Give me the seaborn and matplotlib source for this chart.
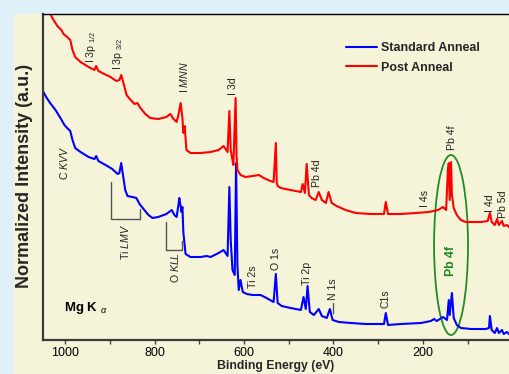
import numpy as np
import pandas as pd
import seaborn as sns
import matplotlib
matplotlib.use("Agg")
import matplotlib.pyplot as plt
from matplotlib.patches import Ellipse, Rectangle

# ---------------- data ----------------
post_be = [1040, 1029, 1018, 1009, 1004, 996, 989, 984, 978, 966, 948, 935, 931, 926, 913, 899, 886, 879, 875,
           870, 863, 854, 845, 839, 832, 821, 810, 792, 774, 765, 758, 751, 747, 742, 738, 736, 733, 729, 720,
           697, 675, 657, 646, 637, 633, 630, 626, 624, 619, 617, 615, 608, 597, 581, 567, 556, 541, 534, 529,
           527, 525, 518, 496, 473, 469, 464, 460, 455, 449, 440, 433, 426, 417, 411, 404, 393, 373, 350, 317,
           287, 283, 278, 249, 216, 187, 166, 155, 148, 144, 142, 140, 137, 135, 131, 124, 115, 104, 70, 55,
           50, 46, 39, 34, 30, 23, 19, 12, 5]
post_int = [332, 322, 314, 310, 306, 303, 300, 290, 283, 278, 273, 270, 274, 269, 266, 263, 259, 260, 265,
            257, 245, 240, 236, 237, 232, 226, 222, 221, 223, 226, 221, 218, 225, 237, 222, 207, 214, 190, 187,
            187, 188, 190, 194, 188, 229, 190, 180, 175, 242, 185, 170, 165, 163, 164, 165, 162, 159, 158, 197,
            157, 154, 152, 150, 148, 156, 147, 176, 145, 142, 140, 148, 140, 137, 148, 137, 134, 130, 127, 126,
            126, 138, 126, 126, 127, 128, 130, 133, 130, 170, 177, 140, 178, 145, 132, 125, 120, 118, 118, 119,
            127, 118, 115, 121, 115, 119, 114, 115, 112]

std_be = [1049, 1043, 1034, 1022, 1011, 1002, 996, 989, 984, 978, 966, 948, 935, 931, 926, 910, 895, 883, 879,
          875, 870, 866, 861, 850, 841, 834, 825, 814, 805, 792, 774, 762, 756, 751, 747, 745, 740, 738, 736,
          731, 720, 697, 684, 675, 657, 646, 637, 633, 630, 626, 621, 618, 615, 612, 608, 603, 594, 581, 563,
          550, 534, 529, 525, 516, 496, 473, 467, 462, 458, 453, 444, 433, 426, 415, 408, 402, 388, 361, 328,
          287, 283, 278, 249, 204, 182, 175, 169, 155, 146, 142, 140, 135, 131, 124, 115, 92, 59, 52, 50, 46,
          39, 34, 30, 23, 19, 12, 5]
std_int = [248, 243, 237, 230, 222, 215, 212, 209, 200, 192, 188, 183, 181, 184, 179, 175, 171, 166, 167,
           177, 162, 150, 144, 143, 142, 136, 131, 125, 122, 123, 126, 130, 125, 123, 135, 142, 128, 133, 108,
           86, 83, 83, 84, 83, 87, 90, 84, 153, 100, 70, 65, 177, 75, 50, 60, 48, 46, 45, 45,
           42, 38, 66, 37, 34, 32, 30, 43, 31, 54, 28, 25, 31, 24, 22, 31, 20, 18, 17, 16,
           16, 27, 15, 16, 17, 19, 21, 19, 23, 20, 40, 25, 47, 22, 15, 12, 11, 11, 12, 24, 10,
           7, 12, 7, 10, 6, 8, 5]

series_names = ["Standard Anneal", "Post Anneal"]
series_colors = ["#0000ff", "#ff0000"]

x_major = [1000, 800, 600, 400, 200]
x_minor = [900, 700, 500, 300, 100]

# annotations: (label, BE, intensity at text bottom)
peak_labels = [
    (r"I 3p $_{1/2}$", 942, 277),
    (r"I 3p $_{3/2}$", 883, 270),
    (r"I $\mathit{MNN}$", 734, 247),
    ("I 3d", 624, 245),
    ("Pb 4d", 437, 153),
    ("Pb 4f", 135, 190),
    ("I 4s", 196, 133),
    ("I 4d", 50, 128),
    ("Pb 5d", 20, 122),
    (r"C $\mathit{KVV}$", 1004, 160),
    (r"Ti $\mathit{LMV}$", 866, 80),
    (r"O $\mathit{KLL}$", 754, 57),
    ("Ti 2s", 580, 52),
    ("O 1s", 529, 70),
    ("Ti 2p", 460, 55),
    ("N 1s", 402, 40),
    ("C1s", 283, 32),
]

FONT = "Liberation Sans"
sns.set_theme(style="ticks")
plt.rcParams["font.family"] = [FONT, "DejaVu Sans"]
plt.rcParams["mathtext.fontset"] = "custom"
plt.rcParams["mathtext.rm"] = FONT
plt.rcParams["mathtext.it"] = FONT + ":italic"
plt.rcParams["mathtext.bf"] = FONT + ":bold"

W, H = 509, 374
fig = plt.figure(figsize=(W / 100, H / 100), dpi=100)
fig.patch.set_facecolor("#dff0f9")
fig.patches.append(Rectangle((14 / W, 0), 1, 1 - 14 / H, transform=fig.transFigure,
                             facecolor="#f5f3d8", edgecolor="none", zorder=-5))

ax = fig.add_axes([43 / W, 34 / H, 1 - 43 / W + 0.002, (340 - 14) / H])
ax.set_facecolor("#f5f3d8")
ax.set_zorder(1)

df = pd.concat([
    pd.DataFrame({"BE": std_be, "I": std_int, "Sample": series_names[0]}),
    pd.DataFrame({"BE": post_be, "I": post_int, "Sample": series_names[1]}),
], ignore_index=True)

sns.lineplot(data=df, x="BE", y="I", hue="Sample", hue_order=series_names,
             palette=dict(zip(series_names, series_colors)), sort=False, estimator=None,
             lw=1.5, ax=ax, legend=True)

ax.set_xlim(1050, 5)
ax.set_ylim(0, 326)
ax.set_xticks(x_major)
ax.set_xticks(x_minor, minor=True)
ax.set_xticklabels([str(v) for v in x_major])
ax.set_yticks([])
ax.tick_params(axis="x", which="both", direction="out", length=3, width=1, color="#404040",
               labelsize=9, pad=2, labelcolor="black")
for s in ["left", "bottom"]:
    ax.spines[s].set_linewidth(1.6)
    ax.spines[s].set_color("#3a3a3a")
ax.spines["top"].set_linewidth(1.0)
ax.spines["top"].set_color("black")
ax.spines["right"].set_visible(False)

ax.set_xlabel("")
ax.set_ylabel("")
fig.text(276 / W, 1 - 366 / H, "Binding Energy (eV)", ha="center", va="center",
         fontsize=8.8, fontweight="bold")
fig.text(25 / W, 1 - 176 / H, "Normalized Intensity (a.u.)", ha="center", va="center",
         rotation=90, fontsize=13, fontweight="bold")

leg = ax.legend(loc="upper left", bbox_to_anchor=((345 - 43) / 466, 1 - (42 - 14) / 326),
                frameon=False, borderpad=0, borderaxespad=0,
                handlelength=2.5, handletextpad=0.3, labelspacing=0.62,
                prop={"family": FONT, "weight": "bold", "size": 9})

for txt, be, yv in peak_labels:
    ax.text(be, yv, txt, rotation=90, ha="center", va="bottom", fontsize=7.6, color="#222222")

# brackets and leader lines
ax.plot([897, 897, 832, 832], [158, 121, 121, 131], color="#555555", lw=1.0)
ax.plot([774, 774, 738, 738], [118, 90, 90, 99], color="#555555", lw=1.0)
ax.plot([402, 402], [27, 37], color="#555555", lw=1.0)

ax.add_patch(Ellipse((137, 95), 76, 180, fill=False, edgecolor="#228b22", lw=1.3))
ax.text(137, 79, "Pb 4f", rotation=90, ha="center", va="center", fontsize=8.8,
        fontweight="bold", color="#1a8a1a")
ax.text(1004, 32, r"Mg K $_{\alpha}$", ha="left", va="center", fontsize=9.5,
        fontweight="bold", color="black")

fig.savefig("out.png", dpi=100, facecolor=fig.get_facecolor())
